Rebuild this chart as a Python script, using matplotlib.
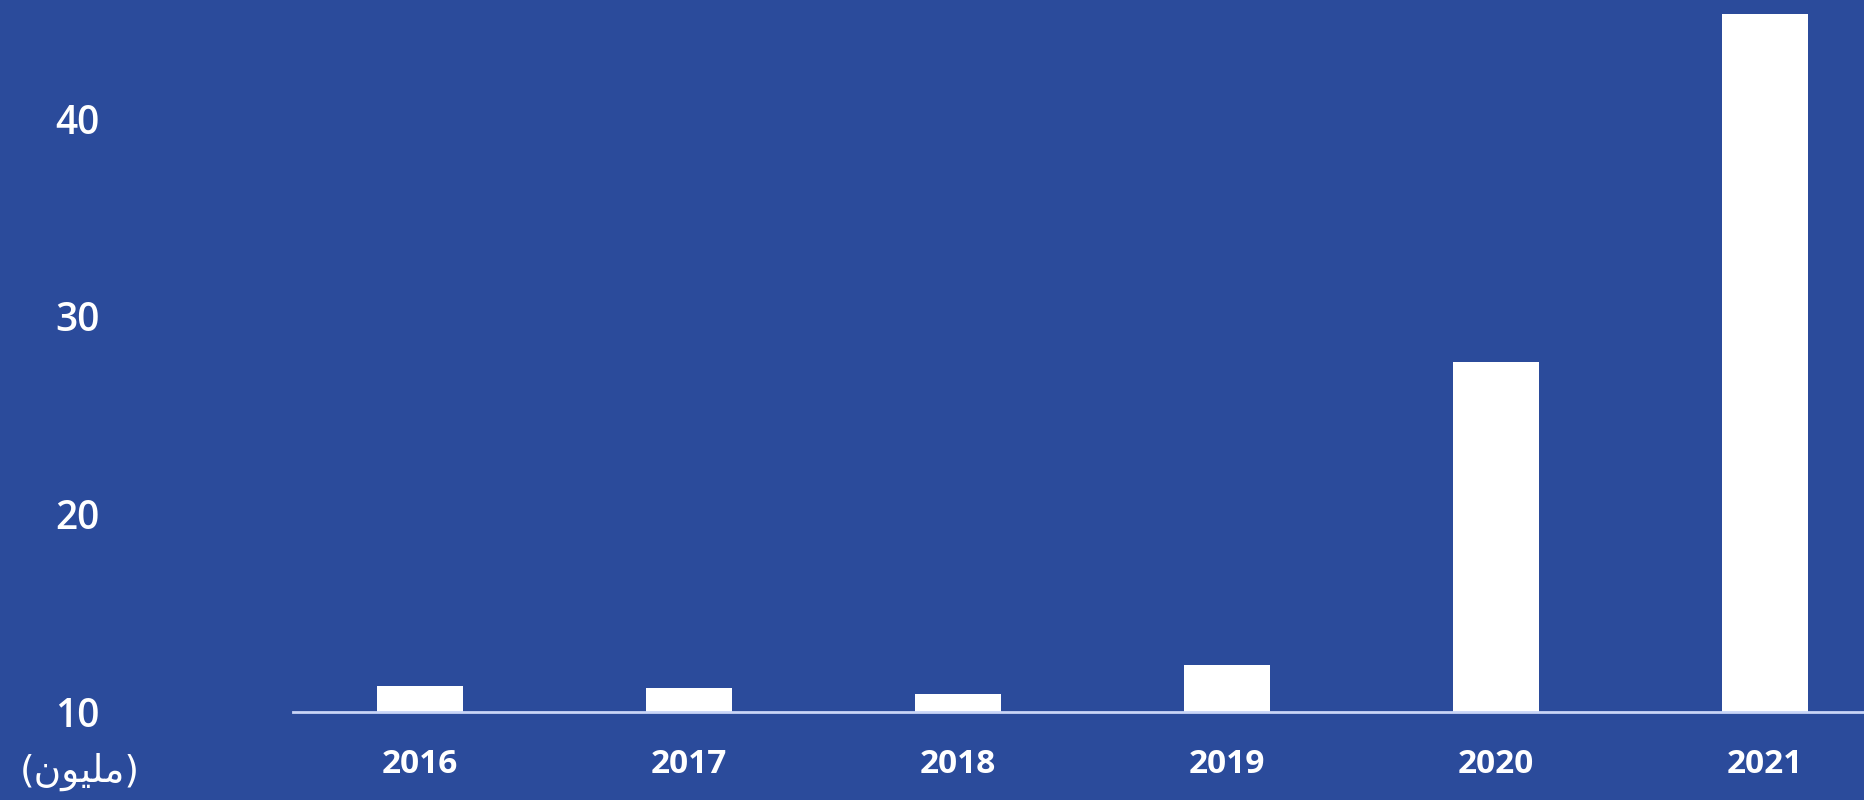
import matplotlib
matplotlib.use('Agg')
import matplotlib.pyplot as plt

# data (millions)
years = ['2016', '2017', '2018', '2019', '2020', '2021']
values = [11.3, 11.2, 10.9, 12.4, 27.7, 45.3]
yticks = [10, 20, 30, 40]
unit_label = '(\ufee5\ufeee\ufef4\ufee0\ufee3)'  # (مليون) in presentation forms, visual order

bg = '#2b4b9b'
line_col = '#c9d5f7'

plt.rcParams['font.family'] = ['Open Sans', 'DejaVu Sans']

fig = plt.figure(figsize=(18.64, 8), dpi=100, facecolor=bg)
ax = fig.add_axes([0.157, 0.11, 0.843, 0.89])
ax.set_facecolor(bg)

x = list(range(len(years)))
ax.bar(x, values, width=0.32, bottom=0, color='white', zorder=2)

ax.set_ylim(10, 46.0)
ax.set_xlim(-0.472, 5.368)

ax.set_yticks(yticks)
ax.set_yticklabels([str(t) for t in yticks], fontsize=28, fontweight='semibold', color='white')
ax.set_xticks(x)
ax.set_xticklabels(years, fontsize=24, fontweight='bold', color='white')
ax.tick_params(axis='y', length=0, pad=139)
ax.tick_params(axis='x', length=0, pad=26)

for s in ['top', 'right', 'left']:
    ax.spines[s].set_visible(False)
ax.spines['bottom'].set_color(line_col)
ax.spines['bottom'].set_linewidth(2)
ax.spines['bottom'].set_zorder(3)

fig.text(80 / 1864, 1 - 772 / 800, unit_label, fontsize=27, color='white',
         ha='center', va='center', family='DejaVu Sans')

plt.savefig('out.png', dpi=100, facecolor=bg)
